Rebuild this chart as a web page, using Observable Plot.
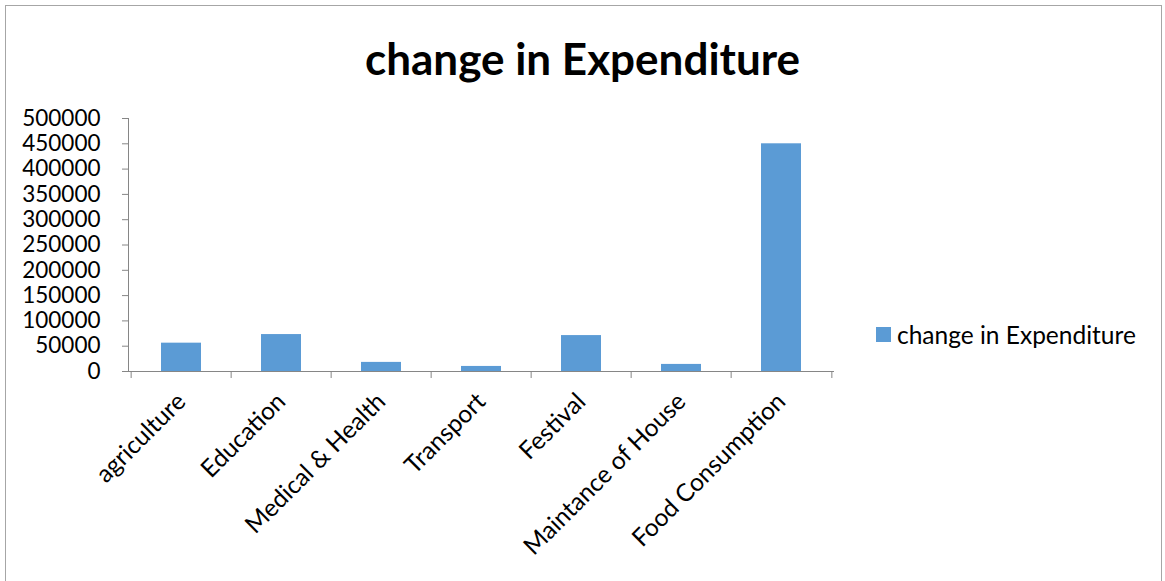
<!DOCTYPE html>
<html>
<head>
<meta charset="utf-8">
<script src="https://cdn.jsdelivr.net/npm/d3@7"></script>
<script src="https://cdn.jsdelivr.net/npm/@observablehq/plot@0.6"></script>
<style>
  html, body { margin: 0; padding: 0; background: #fff; }
  body { width: 1165px; height: 581px; position: relative; overflow: hidden; font-family: Lato, "Open Sans", sans-serif; }
  #border { position: absolute; left: 5px; top: 5px; width: 1157px; height: 640px; border: 1.5px solid #a6a6a6; box-sizing: border-box; }
  #title { position: absolute; left: 0; top: 0; width: 1165px; height: 95px; line-height: 116px; text-align: center; font-weight: bold; font-size: 44px; color: #000; }
  #chart { position: absolute; left: 0; top: 95px; }
  #legend { position: absolute; left: 876px; top: 320px; display: flex; align-items: center; font-size: 24.5px; color: #000; }
  #legend .sw { width: 15px; height: 15px; background: #5b9bd5; margin-right: 6px; }
</style>
</head>
<body>
<div id="border"></div>
<div id="title">change in Expenditure</div>
<div id="chart"></div>
<div id="legend"><span class="sw"></span><span id="legendText"></span></div>
<script>
const categories = ["agriculture", "Education", "Medical & Health", "Transport", "Festival", "Maintance of House", "Food Consumption"];
const values = [56000, 73000, 18000, 10000, 71000, 14000, 450000];
const seriesName = "change in Expenditure";
const yTicks = [0, 50000, 100000, 150000, 200000, 250000, 300000, 350000, 400000, 450000, 500000];

const data = categories.map((c, i) => ({category: c, value: values[i]}));

const W = 1165, H = 486, ML = 128, MR = 332, MT = 23, MB = 210;
const step = (W - ML - MR) / categories.length;

document.getElementById("legendText").textContent = seriesName;

const chart = Plot.plot({
  width: W, height: H,
  marginLeft: ML, marginRight: MR, marginTop: MT, marginBottom: MB,
  style: {fontFamily: "Lato, 'Open Sans', sans-serif", fontSize: "22.5px", color: "#000", background: "transparent", overflow: "visible"},
  x: {domain: categories, paddingInner: 0.6, paddingOuter: 0.3, axis: null},
  y: {domain: [0, 500000], axis: null},
  marks: [
    Plot.barY(data, {x: "category", y: "value", fill: "#5b9bd5"}),
    Plot.frame({anchor: "left", stroke: "#868686"}),
    Plot.frame({anchor: "bottom", stroke: "#868686"}),
    Plot.axisY({ticks: yTicks, tickSize: 6, tickPadding: 22, stroke: "#868686", fill: "#000", tickFormat: d => String(d), label: null}),
    Plot.axisX({ticks: categories, tickSize: 7, stroke: "#868686", text: null, dx: -step / 2, label: null}),
    Plot.axisX({ticks: categories.slice(-1), tickSize: 7, stroke: "#868686", text: null, dx: step / 2, label: null}),
    Plot.axisX({ticks: categories, tickSize: 0, tickPadding: 26, tickRotate: -45, fill: "#000", fontSize: 24.5, label: null})
  ]
});
document.getElementById("chart").appendChild(chart);
</script>
</body>
</html>
